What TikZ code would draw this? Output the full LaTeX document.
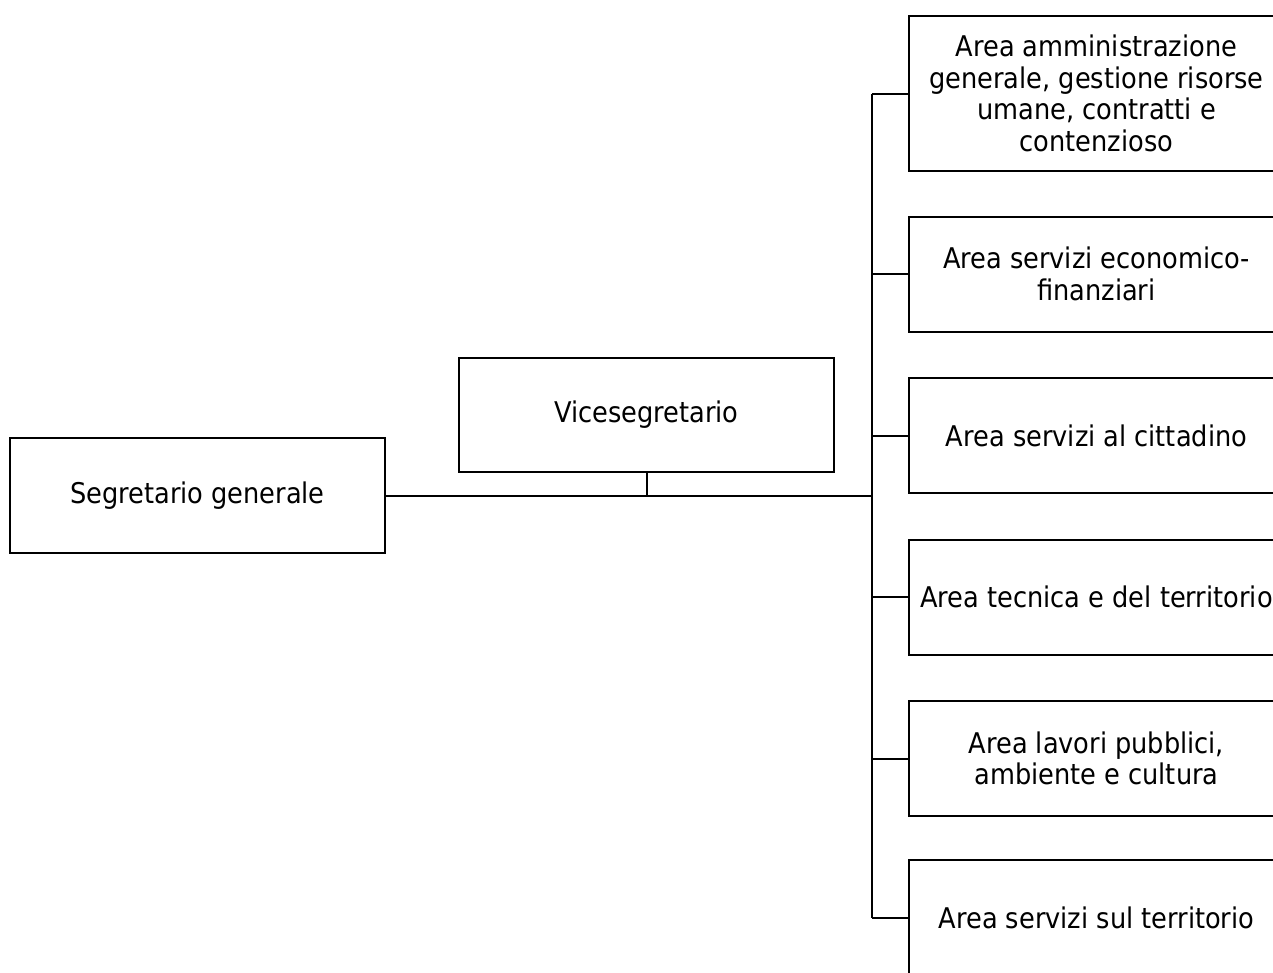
\documentclass[tikz,border=0pt]{standalone}
\usepackage{fontspec}
\setmainfont{DejaVu Sans Condensed}
\begin{document}
\begin{tikzpicture}[x=1pt,y=-1pt,
  orgbox/.style={draw=black,line width=2pt,rectangle,minimum width=375pt,minimum height=115pt,
    align=center,inner sep=0pt,font=\fontsize{28.5}{31.5}\selectfont,text=black},
  conn/.style={draw=black,line width=2pt}]
\useasboundingbox (0,0) rectangle (1273,972);
\clip (0,0) rectangle (1273,972);
\node[orgbox] (seg) at (197.5,495.5) {Segretario generale};
\node[orgbox,minimum height=114pt] (vice) at (646.5,415) {Vicesegretario};
\node[orgbox,minimum height=155pt] (a1) at (1096.5,93.5) {Area amministrazione\\generale, gestione risorse\\umane, contratti e\\contenzioso};
\node[orgbox] (a2) at (1096.5,274) {Area servizi economico-\\finanziari};
\node[orgbox] (a3) at (1096.5,435.5) {Area servizi al cittadino};
\node[orgbox] (a4) at (1096.5,597) {Area tecnica e del territorio};
\node[orgbox] (a5) at (1096.5,758.5) {Area lavori pubblici,\\ambiente e cultura};
\node[orgbox] (a6) at (1096.5,917.5) {Area servizi sul territorio};
\coordinate (bus) at (872,495.5);
\draw[conn] (seg.east) -- (bus);
\draw[conn] (vice.south) -- (vice.south |- seg.east);
\draw[conn] (bus |- a1.west) -- (bus |- a6.west);
\foreach \n in {a1,a2,a3,a4,a5,a6} \draw[conn] (bus |- \n.west) -- (\n.west);
\end{tikzpicture}
\end{document}
